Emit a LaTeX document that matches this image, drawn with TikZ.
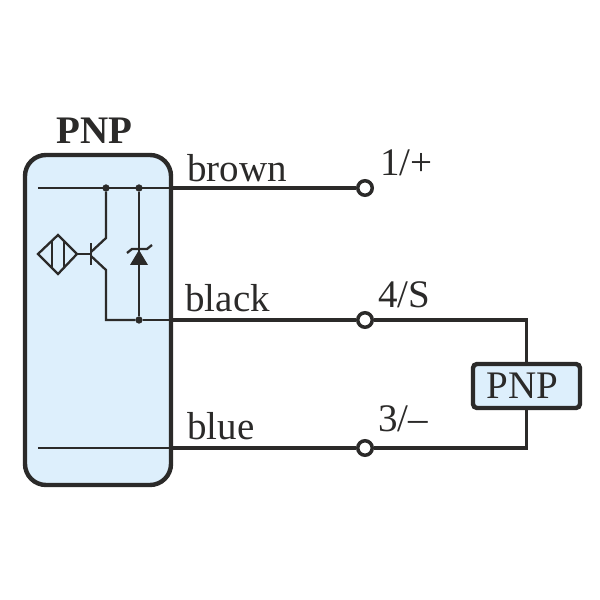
\documentclass[tikz,border=0pt]{standalone}
\usepackage{fontspec}
\setmainfont{Liberation Serif}
\usetikzlibrary{calc}

\definecolor{sensorblue}{HTML}{DDEFFC}
\definecolor{inkgrey}{HTML}{2B2A29}

\begin{document}
\begin{tikzpicture}[
	color=inkgrey,
	thinwire/.style={line width=1.3pt},
	thickwire/.style={line width=2.1pt},
	housing/.style={draw,fill=sensorblue,line width=2.5pt,rounded corners=0.42cm,outer sep=0pt,inner sep=0pt},
	junction/.style={draw,shape=circle,fill=inkgrey,inner sep=0pt,minimum size=0.13cm,line width=0.4pt},
	terminal/.style={draw,shape=circle,fill=white,inner sep=0pt,minimum size=0.29cm,line width=2pt},
	wirelabel/.style={anchor=base west,inner sep=0pt,font=\fontsize{22.2}{22}\selectfont}
]
	\useasboundingbox (0,0) rectangle (12,12);
	\draw (1.96,5.6) node (S) [housing,minimum width=2.92cm,minimum height=6.6cm] {};
	\draw (1.13,9.12) node (title) [wirelabel] {\bfseries PNP};

	\coordinate (Lt) at (0.76,8.24);
	\coordinate (Lb) at (0.76,3.04);
	\coordinate (St) at (S.east |- Lt);
	\coordinate (Sm) at (3.42,5.6);
	\coordinate (Sb) at (S.east |- Lb);
	\draw (2.12,8.24) node (J1) [junction] {};
	\draw (2.78,8.24) node (J2) [junction] {};
	\draw (2.78,5.6) node (J3) [junction] {};

	\draw (7.3,8.24) node (T1) [terminal] {};
	\draw (7.3,5.6) node (T4) [terminal] {};
	\draw (7.3,3.04) node (T3) [terminal] {};
	\draw (10.53,4.28) node (L) [housing,rounded corners=0.08cm,minimum width=2.14cm,minimum height=0.88cm] {};
	\node [wirelabel] (Ltext) at (9.73,4.02) {PNP};

	\coordinate (Dw) at (0.76,6.92);
	\coordinate (Dn) at (1.16,7.3);
	\coordinate (De) at (1.54,6.92);
	\coordinate (Ds) at (1.16,6.52);
	\draw [thinwire] (Dw) -- (Dn) -- (De) -- (Ds) -- cycle;
	\draw [thinwire] (1.04,7.18) -- (1.04,6.66);
	\draw [thinwire] (1.28,7.18) -- (1.28,6.66);

	\coordinate (Bq) at (1.82,6.92);
	\draw [thinwire] (De) -- (Bq);
	\draw [thinwire] (1.82,7.14) -- (1.82,6.7);
	\draw [thinwire] (J1) -- (2.12,7.24) -- (1.82,6.96);
	\draw [thinwire] (1.82,6.88) -- (2.12,6.6) -- (2.12,5.6) -- (J3);

	\draw [thinwire] (Lt) -- (St);
	\draw [thinwire] (Lb) -- (Sb);
	\draw [thinwire] (J2) -- (J3);
	\draw [thinwire] (J3) -- (Sm);
	\draw [fill=inkgrey,draw=none] (2.78,7) -- (2.96,6.7) -- (2.6,6.7) -- cycle;
	\draw [thinwire] (2.54,6.94) -- (2.64,7.02) -- (2.94,7.02) -- (3.04,7.1);

	\draw [thickwire] (St) -- (T1);
	\draw [thickwire] (Sm) -- (T4);
	\draw [thickwire] (Sb) -- (T3);
	\draw [thickwire] (T4) -| (L.north);
	\draw [thickwire] (T3) -| (L.south);

	\node [wirelabel] (brown) at (3.74,8.36) {brown};
	\node [wirelabel] (one) at (7.6,8.48) {1/+};
	\node [wirelabel] (black) at (3.7,5.76) {black};
	\node [wirelabel] (four) at (7.56,5.84) {4/S};
	\node [wirelabel] (blue) at (3.74,3.2) {blue};
	\node [wirelabel] (three) at (7.56,3.36) {3/--};
\end{tikzpicture}
\end{document}
